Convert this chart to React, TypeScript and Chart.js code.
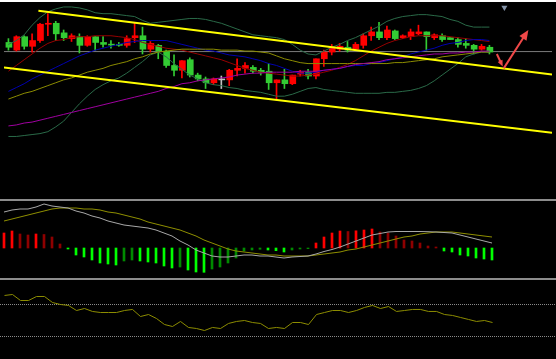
import React, { useEffect, useRef } from 'react';
import { Chart, registerables } from 'chart.js';

Chart.register(...registerables);

// ---------- Price panel data (arbitrary price units) ----------
const candleOpen = [160,152,166,156,162,179,180,170,164,166,157,166,160,158,158,157,165,167,153,157,151,136,131,142,126,122,118,121.5,121,131,133,134,131,130,118,121,117,127,129,125,143,150,153,155,153,157,167,171,165,172,165,166,169,171,165,167,165,163,159,157,153,155];
const candleHigh = [164,167,167,169,180,190,182,173,169,169,167,166,166,162,160,167,180,176,161,158,152,147,141,144,128,124,123,125,132,143,139,136,133,138,121,132,126,131,132,143,152,158,159,161,160,169,176,181,177,173,168,174,178,171,169,169,165,165,164,158,158,157];
const candleLow = [152,151,153,150,160,167,162,162,161,149,156,152,155,154,156,155,160,148,150,143,134,125,123,124,120,112,116,112,115,125,128,128,126,111,100,112,116,125,122,122,135,147,151,150,152,154,162,163,163,163,164,163,168,152,163,161,163,155,154,148,152,148];
const candleClose = [155,166,156,162,179,180,169,165,167,157,166,160,158,157.5,157,164,167,153,159,151,136,131,141,126,122,118,122,121.5,131,133,136,130,129,118,121,117,126,129,125,143,150,155,156,152,158,167,171,165,173,164,167,171,171,166,168,163,163,158,157,153,156,150];

const bollUpper = [158,162,168,178,186,192,195,197,197,196,194,191,190,190,189,188,187,183,180,181,182,183,184,185,185,184,182,180,177,174,171,168,167,166,165,163,158,152,148,147,151,155,158,162,165,169,173,177,182,185,187,188,189,189,188,187,184,182,178,176,176,176];
const bollLower = [62,62,63,64,65,67,72,78,87,96,104,111,116,120,123,128,134,140,147,150,145,138,132,126,122,118,116,115,113,112,110,109,108,106,104,104,106,109,112,113,111,110,109,108,107,107,107,107,108,108,109,110,112,115,120,126,132,138,145,148,150,150];
const maRed = [130,136,142,148,154,159,162,163,165,166,166,167,167,167,166,165,163,160,158,156,154,153,152,150,148,146,144,142,139,136,133,131,129,128,127,126,125,125,126,127,129,131,134,137,141,146,151,155,159,162,164,166,167,167,167,167,166,165,164,163,162,161];
const maBlue = [109,113,117,122,126,130,134,138,142,146,149,152,154,156,158,160,161,162,162,162,162,160,158,156,154,152,151,149,147,146,145,143,141,138,136,133,130,128,128,129,131,132,133,135,136,136,138,139,141,143,145,148,150,152,154,157,159,160,162,163,163,162];
const maOlive = [101,104,107,109,112,115,118,121,123,126,129,131,133,136,138,140,143,145,148,150,151,152,153,153,153,153,153,152,152,152,151,151,150,149,146,143,141,139,138,138,138,138,138,138,138,138,138,138,138,139,139,140,141,142,143,145,146,147,148,149,150,150];
const maPurple = [73,74,76,77,79,81,83,85,87,89,91,93,95,97,99,101,103,105,107,109,112,114,117,118,120,121,122,123,124,126,127,128,128,129,129,129,129,130,130,130,131,132,133,135,137,138,139,140,142,143,144,145,146,147,148,148,149,149,150,150,151,151];

const bidPrice = 150.5;
const channelUpperX = [3.8, 68.94];
const channelUpperY = [193, 126.6];
const channelLowerX = [-0.57, 68.94];
const channelLowerY = [134, 66];
const arrowStartX = [61.94, 62.81];
const arrowStartY = [148, 133];
const arrowEndX = [62.69, 65.94];
const arrowEndY = [135, 173];
const markerX = [62.9];
const markerY = [196.5];

// ---------- MACD panel ----------
const macdHist = [15,17,14,13,14,13.5,11,4,-1,-7,-9,-12,-15,-16,-17,-13,-12,-13,-14,-15,-18,-20,-19,-22,-24,-24.3,-21,-19,-15,-10,-3,-2,-1.3,-2,-2.7,-4,-2,-1,-0.7,5,11,15,17,16.5,17.2,18,19,16,15,12,8,7,5,2,1,-3,-4,-7,-8,-10,-11,-12];
const macdMain = [36,38,39,39,41,44,42,41,40,37,35,32,30,27,25,23,22,21,20,18,15,12,7,3,-2,-5,-8,-9,-9,-8,-7,-7,-8,-8,-9,-10,-9,-8.5,-8,-6,-3.5,-1.5,1,4,7,10,13,14.5,16,16.5,16.5,16.5,16.5,16.3,16,15.5,15,13,11,9,7,5];
const macdSignal = [27,29,31,33,35,37,39,40,40,40,39,39,38,36,35,33,31,29,26,24,22,20,18,15,12,8,5,2,-1,-3,-4,-5,-6,-7,-7,-8,-8,-8,-8,-7,-6,-5,-4,-2,-1,1,3,5,7,9,11,12,14,15,16,16,16,15,14,13,12,11];

// ---------- RSI panel ----------
const rsiValues = [81.3,82.5,75,75,80,80,72.5,70,68.8,62.5,65,61.3,60,60,60,62.5,63.8,55,57.5,52.5,45,42.5,48.8,41.3,40,37.5,41.3,40,46.3,48.8,50,47.5,46.3,40,41.3,40,47.5,47.5,45,57.5,60,62.5,62.5,60,62.5,66.3,68.8,65,67.5,61.3,62.5,63.8,63.8,61.3,61.3,57.5,56.3,53.8,51.3,48.8,50,47.5];
const rsiLevels = [70, 30];

const UP = '#ff0000';
const DOWN = '#33cc33';
const DOJI = '#c0c0c0';

const pts = (arr: number[]) => arr.map((v, i) => ({ x: i, y: v }));

function baseOptions(xmin: number, xmax: number, ymin: number, ymax: number): any {
  return {
    responsive: false,
    animation: false,
    events: [],
    layout: { padding: 0 },
    plugins: { legend: { display: false }, tooltip: { enabled: false }, title: { display: false } },
    scales: {
      x: { type: 'linear', min: xmin, max: xmax, display: false, offset: false, grid: { display: false } },
      y: { type: 'linear', min: ymin, max: ymax, display: false, grid: { display: false } },
    },
  };
}

function lineDs(data: any[], color: string, width: number, order: number, extra: any = {}) {
  return {
    type: 'line',
    data,
    borderColor: color,
    borderWidth: width,
    pointRadius: 0,
    fill: false,
    tension: 0,
    order,
    ...extra,
  };
}

const arrowPlugin = {
  id: 'arrows',
  afterDatasetsDraw(chart: any) {
    const { ctx, scales } = chart;
    const sx = scales.x;
    const sy = scales.y;
    ctx.save();
    ctx.strokeStyle = '#f04848';
    ctx.fillStyle = '#f04848';
    ctx.lineWidth = 2;
    for (let k = 0; k < arrowStartX.length; k++) {
      const x0 = sx.getPixelForValue(arrowStartX[k]);
      const y0 = sy.getPixelForValue(arrowStartY[k]);
      const x1 = sx.getPixelForValue(arrowEndX[k]);
      const y1 = sy.getPixelForValue(arrowEndY[k]);
      const ang = Math.atan2(y1 - y0, x1 - x0);
      const len = Math.hypot(x1 - x0, y1 - y0);
      const head = Math.min(10, len * 0.45);
      const half = head * 0.42;
      const bx = x1 - Math.cos(ang) * head;
      const by = y1 - Math.sin(ang) * head;
      ctx.beginPath();
      ctx.moveTo(x0, y0);
      ctx.lineTo(bx + Math.cos(ang) * 1, by + Math.sin(ang) * 1);
      ctx.stroke();
      ctx.beginPath();
      ctx.moveTo(x1, y1);
      ctx.lineTo(bx + Math.sin(ang) * half, by - Math.cos(ang) * half);
      ctx.lineTo(bx - Math.sin(ang) * half, by + Math.cos(ang) * half);
      ctx.closePath();
      ctx.fill();
    }
    ctx.restore();
  },
};

// half-pixel shift so that a 6px body covers whole pixel columns
const BODY_SHIFT = 0.0625;

function mainConfig(): any {
  const colors = candleOpen.map((o, i) =>
    candleClose[i] > o ? UP : candleClose[i] < o ? DOWN : DOJI
  );
  const bodies = candleOpen.map((o, i) => {
    let lo = Math.min(o, candleClose[i]);
    let hi = Math.max(o, candleClose[i]);
    if (hi - lo < 1) {
      const m = (hi + lo) / 2;
      lo = m - 0.5;
      hi = m + 0.5;
    }
    return { x: i + BODY_SHIFT, y: [lo, hi] };
  });
  const wicks = candleHigh.map((h, i) => ({ x: i, y: [candleLow[i], h] }));
  const opts = baseOptions(-0.5625, 68.9375, 1, 198);
  return {
    type: 'bar',
    data: {
      datasets: [
        lineDs(channelUpperX.map((x, i) => ({ x, y: channelUpperY[i] })), '#ffff00', 2, 0),
        lineDs(channelLowerX.map((x, i) => ({ x, y: channelLowerY[i] })), '#ffff00', 2, 0),
        {
          type: 'line',
          data: markerX.map((x, i) => ({ x, y: markerY[i] })),
          showLine: false,
          pointStyle: 'triangle',
          pointRadius: 3.5,
          pointRotation: 180,
          pointBackgroundColor: '#8494a8',
          pointBorderWidth: 0,
          clip: false,
          order: 0,
        },
        lineDs(pts(maPurple), '#a000a0', 1, 2),
        lineDs(pts(maOlive), '#8c8c00', 1, 3),
        lineDs(pts(maBlue), '#0000b0', 1, 4),
        lineDs(pts(maRed), '#960000', 1, 5),
        lineDs(pts(bollUpper), '#2a6a48', 1, 6),
        lineDs(pts(bollLower), '#2a6a48', 1, 6),
        {
          type: 'bar',
          data: bodies,
          backgroundColor: colors,
          borderWidth: 0,
          borderSkipped: false,
          barThickness: 6,
          grouped: false,
          order: 10,
        },
        {
          type: 'bar',
          data: wicks,
          backgroundColor: colors,
          borderWidth: 0,
          borderSkipped: false,
          barThickness: 1,
          grouped: false,
          order: 11,
        },
        lineDs([{ x: -0.5625, y: bidPrice }, { x: 68.9375, y: bidPrice }], '#7a7a7a', 1, 12),
      ],
    },
    options: opts,
    plugins: [arrowPlugin],
  };
}

function macdConfig(): any {
  const colors = macdHist.map((v, i) => {
    const prev = i > 0 ? macdHist[i - 1] : v;
    if (v >= 0) return v >= prev ? '#ff0000' : '#8e0000';
    return v <= prev ? '#00ff00' : '#008a00';
  });
  return {
    type: 'bar',
    data: {
      datasets: [
        lineDs(pts(macdMain), '#a8a8a8', 1, 0),
        lineDs(pts(macdSignal), '#8f8f00', 1, 1),
        {
          type: 'bar',
          data: pts(macdHist),
          backgroundColor: colors,
          borderWidth: 0,
          borderSkipped: false,
          barThickness: 2,
          grouped: false,
          order: 5,
        },
      ],
    },
    options: baseOptions(-0.5, 69, -30, 47),
  };
}

function rsiConfig(): any {
  return {
    type: 'line',
    data: {
      datasets: [
        lineDs(pts(rsiValues), '#8c8c00', 1, 0),
        ...rsiLevels.map((lv) =>
          lineDs([{ x: -0.5625, y: lv }, { x: 68.9375, y: lv }], '#8a8a8a', 1, 2, { borderDash: [1, 1] })
        ),
      ],
    },
    options: baseOptions(-0.5625, 68.9375, 1.875, 100.625),
  };
}

export default function App() {
  const mainRef = useRef<HTMLCanvasElement>(null);
  const macdRef = useRef<HTMLCanvasElement>(null);
  const rsiRef = useRef<HTMLCanvasElement>(null);

  useEffect(() => {
    document.body.style.margin = '0';
    const charts: Chart[] = [];
    if (mainRef.current) charts.push(new Chart(mainRef.current, mainConfig()));
    if (macdRef.current) charts.push(new Chart(macdRef.current, macdConfig()));
    if (rsiRef.current) charts.push(new Chart(rsiRef.current, rsiConfig()));
    return () => charts.forEach((c) => c.destroy());
  }, []);

  const abs = (top: number, h: number): React.CSSProperties => ({
    position: 'absolute',
    left: 0,
    top,
    width: 556,
    height: h,
    display: 'block',
  });

  return (
    <div style={{ position: 'fixed', left: 0, top: 0, width: 556, height: 359, background: '#000', overflow: 'hidden' }}>
      <div style={{ ...abs(0, 2), background: '#ffffff' }} />
      <canvas ref={mainRef} width={556} height={197} style={abs(2, 197)} />
      <div style={{ ...abs(199, 2), background: '#8c8c8c' }} />
      <canvas ref={macdRef} width={556} height={77} style={abs(201, 77)} />
      <div style={{ ...abs(278, 2), background: '#8c8c8c' }} />
      <canvas ref={rsiRef} width={556} height={79} style={abs(280, 79)} />
    </div>
  );
}
